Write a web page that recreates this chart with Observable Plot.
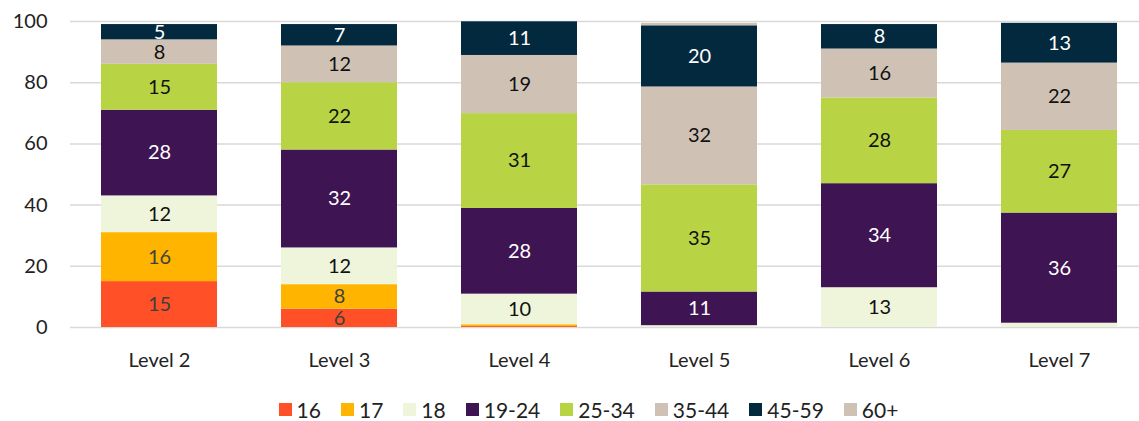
<!DOCTYPE html>
<html>
<head>
<meta charset="utf-8">
<script src="https://cdn.jsdelivr.net/npm/d3@7"></script>
<script src="https://cdn.jsdelivr.net/npm/@observablehq/plot@0.6"></script>
<style>
  html, body { margin: 0; padding: 0; background: #fff; }
  body { width: 1139px; font-family: "Lato", "Open Sans", sans-serif; }
  #chart svg { display: block; }
  #legend { box-sizing: border-box; display: flex; justify-content: center; align-items: center; height: 31px; padding-top: 7px; padding-left: 58px; font-size: 21px; line-height: 1; color: #222; }
  .item { display: flex; align-items: center; margin-right: 20px; }
  .sw { width: 13px; height: 13px; margin-right: 5px; }
</style>
</head>
<body>
<div id="chart"></div>
<div id="legend"></div>
<script>
// Data
const categories = ["Level 2", "Level 3", "Level 4", "Level 5", "Level 6", "Level 7"];
const groups = ["16", "17", "18", "19-24", "25-34", "35-44", "45-59", "60+"];
const s16    = [15, 6, 0.3, 0, 0, 0];
const s17    = [16, 8, 0.6, 0, 0, 0];
const s18    = [12, 12, 10, 0.6, 13, 1.4];
const s19_24 = [28, 32, 28, 11, 34, 36];
const s25_34 = [15, 22, 31, 35, 28, 27];
const s35_44 = [8, 12, 19, 32, 16, 22];
const s45_59 = [5, 7, 11, 20, 8, 13];
const s60    = [0, 0, 0, 0.8, 0, 0];
const yTicks = [0, 20, 40, 60, 80, 100];

const series = [s16, s17, s18, s19_24, s25_34, s35_44, s45_59, s60];
const colors = ["#FF5028", "#FFB400", "#EEF5DA", "#3F1452", "#B8D444", "#CFC2B5", "#03293E", "#CFC2B5"];
const labelColors = ["#404040", "#404040", "#111", "#fff", "#111", "#111", "#fff", "#111"];

// Build stacked table
const rows = [];
categories.forEach((c, i) => {
  let acc = 0;
  groups.forEach((g, j) => {
    const v = series[j][i];
    rows.push({category: c, group: g, value: v, y1: acc, y2: acc + v, labelColor: labelColors[j]});
    acc += v;
  });
});
const labels = rows.filter(d => d.value >= 3);

const font = "Lato, 'Open Sans', sans-serif";
const plot = Plot.plot({
  width: 1139,
  height: 390,
  marginTop: 21,
  marginBottom: 63,
  marginLeft: 70,
  marginRight: 0,
  style: {fontFamily: font, fontSize: "20px", color: "#222", background: "#fff"},
  x: {domain: categories, range: [69, 1149], paddingInner: 0.356, paddingOuter: 0.178, label: null},
  y: {domain: [0, 100], label: null},
  color: {domain: groups, range: colors},
  marks: [
    Plot.ruleY(yTicks, {stroke: "#d9d9d9", strokeWidth: 1.5}),
    Plot.barY(rows, {x: "category", y1: "y1", y2: "y2", fill: "group"}),
    ...["#404040", "#111", "#fff"].map(col =>
      Plot.text(labels.filter(d => d.labelColor === col), {
        x: "category", y: d => (d.y1 + d.y2) / 2, text: d => String(Math.round(d.value)),
        fill: col, fontSize: 20
      })
    ),
    Plot.axisY({ticks: yTicks, tickSize: 0, tickPadding: 23, fontSize: 20, fill: "#222"}),
    Plot.axisX({tickSize: 0, tickPadding: 25, fontSize: 20, fill: "#222"})
  ]
});
document.getElementById("chart").appendChild(plot);

// Legend
const legend = document.getElementById("legend");
groups.forEach((g, j) => {
  const item = document.createElement("div");
  item.className = "item";
  const sw = document.createElement("span");
  sw.className = "sw";
  sw.style.background = colors[j];
  const t = document.createElement("span");
  t.textContent = g;
  item.appendChild(sw);
  item.appendChild(t);
  legend.appendChild(item);
});
</script>
</body>
</html>
